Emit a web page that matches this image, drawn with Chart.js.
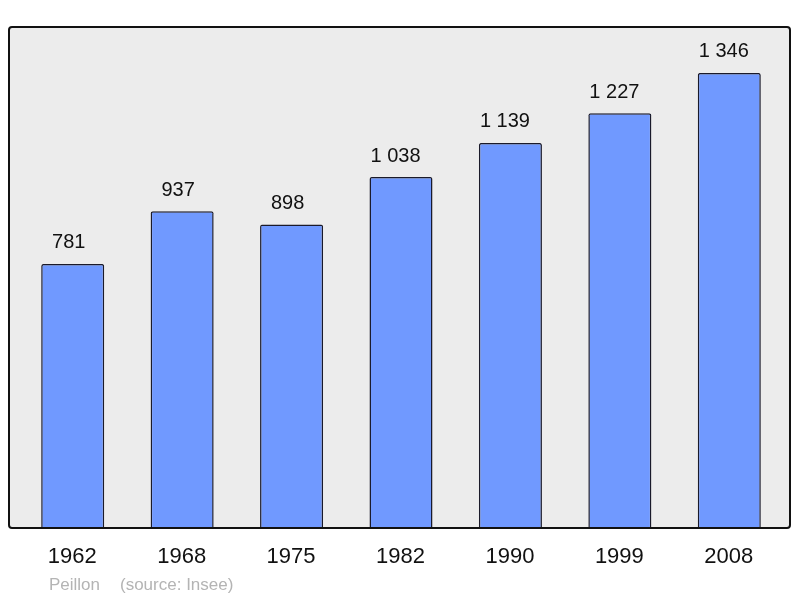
<!DOCTYPE html>
<html>
<head>
<meta charset="utf-8">
<script src="https://cdn.jsdelivr.net/npm/chart.js@4/dist/chart.umd.min.js"></script>
<style>
  html, body { margin: 0; padding: 0; background: #fff; }
  #wrap { width: 800px; height: 598px; position: relative; }
</style>
</head>
<body>
<div id="wrap"><canvas id="popChart" width="800" height="598"></canvas></div>
<script>
// Population data (Insee)
const years = ['1962', '1968', '1975', '1982', '1990', '1999', '2008'];
const population = [781, 937, 898, 1038, 1139, 1227, 1346];
const townName = 'Peillon';
const sourceText = '(source: Insee)';

const fontFamily = '"Liberation Sans", Arial, sans-serif';

function formatNumber(v) {
  return String(v).replace(/\B(?=(\d{3})+(?!\d))/g, ' ');
}

function roundRect(ctx, x, y, w, h, r) {
  ctx.beginPath();
  ctx.moveTo(x + r, y);
  ctx.lineTo(x + w - r, y);
  ctx.quadraticCurveTo(x + w, y, x + w, y + r);
  ctx.lineTo(x + w, y + h - r);
  ctx.quadraticCurveTo(x + w, y + h, x + w - r, y + h);
  ctx.lineTo(x + r, y + h);
  ctx.quadraticCurveTo(x, y + h, x, y + h - r);
  ctx.lineTo(x, y + r);
  ctx.quadraticCurveTo(x, y, x + r, y);
  ctx.closePath();
}

// Panel background, border, and labels
const panelPlugin = {
  id: 'panel',
  beforeDatasetsDraw(chart) {
    const ctx = chart.ctx;
    ctx.save();
    roundRect(ctx, 9, 27, 781, 501, 3);
    ctx.fillStyle = '#ececec';
    ctx.fill();
    ctx.restore();
  },
  afterDatasetsDraw(chart) {
    const ctx = chart.ctx;
    const xScale = chart.scales.x;
    const meta = chart.getDatasetMeta(0);
    ctx.save();
    roundRect(ctx, 9, 27, 781, 501, 3);
    ctx.lineWidth = 2;
    ctx.strokeStyle = '#111';
    ctx.stroke();

    // value labels
    ctx.fillStyle = '#111';
    ctx.font = '20px ' + fontFamily;
    ctx.textAlign = 'center';
    ctx.textBaseline = 'middle';
    meta.data.forEach((bar, i) => {
      const shift = population[i] >= 1000 ? 5.5 : 4;
      ctx.fillText(formatNumber(population[i]), bar.x - shift, bar.y - 21);
    });

    // year labels
    ctx.font = '22px ' + fontFamily;
    years.forEach((y, i) => {
      ctx.fillText(y, xScale.getPixelForValue(i) - 0.5, 557);
    });

    // footer
    ctx.fillStyle = '#b4b4b4';
    ctx.font = '17px ' + fontFamily;
    ctx.textAlign = 'left';
    ctx.fillText(townName, 49, 585);
    ctx.fillText(sourceText, 120, 585);
    ctx.restore();
  }
};

const ctx = document.getElementById('popChart').getContext('2d');
new Chart(ctx, {
  type: 'bar',
  data: {
    labels: years,
    datasets: [{
      data: population,
      backgroundColor: '#7099ff',
      borderColor: '#1a1a2a',
      borderWidth: 1.5,
      borderRadius: 2,
      borderSkipped: 'bottom',
      barPercentage: 0.576,
      categoryPercentage: 1,
    }],
  },
  options: {
    responsive: false,
    animation: false,
    layout: {
      padding: { left: 18, right: 16, top: 27, bottom: 70 },
    },
    scales: {
      x: { display: false },
      y: { display: false, min: 0, max: 1482 },
    },
    plugins: {
      legend: { display: false },
      tooltip: { enabled: false },
    },
  },
  plugins: [panelPlugin],
});
</script>
</body>
</html>
